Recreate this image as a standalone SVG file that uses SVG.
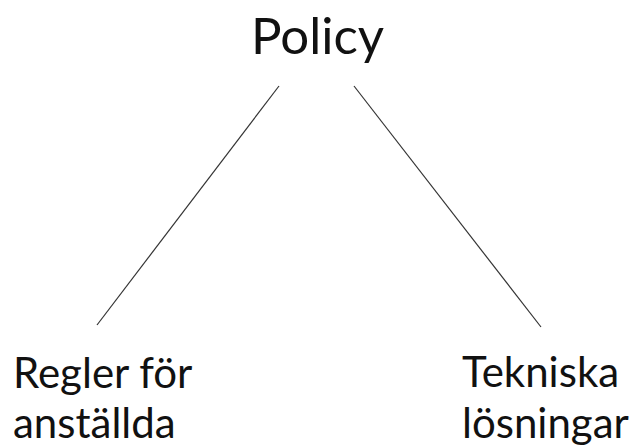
<svg xmlns="http://www.w3.org/2000/svg" width="642" height="448" viewBox="0 0 642 448">
<style>
text{font-family:Lato,"Open Sans","Liberation Sans",sans-serif;fill:#111;}
.t{font-size:51px;}
.l{font-size:42px;}
.c line{stroke:#333;stroke-width:1.2;}
</style>
<rect width="642" height="448" fill="#fff"/>
<g id="policy"><text class="t" x="251" y="54">Policy</text></g>
<g class="c" id="connectors">
<line x1="279" y1="86" x2="97" y2="325"/>
<line x1="354" y1="86" x2="541" y2="327"/>
</g>
<g id="regler"><text class="l" x="13" y="388">Regler för</text><text class="l" x="13" y="438">anställda</text></g>
<g id="tekniska"><text class="l" x="462" y="387">Tekniska</text><text class="l" x="462" y="438">lösningar</text></g>
</svg>
